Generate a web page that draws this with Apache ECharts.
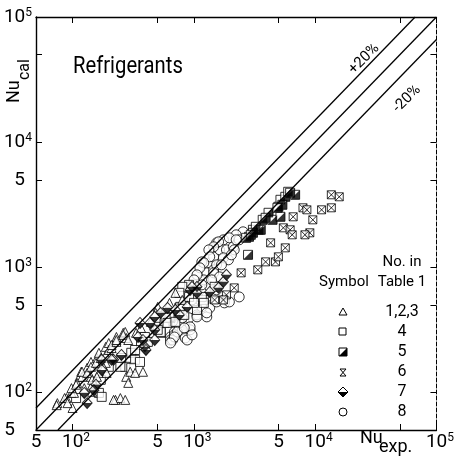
<!DOCTYPE html>
<html>
<head>
<meta charset="utf-8">
<script src="https://cdn.jsdelivr.net/npm/echarts@6/dist/echarts.min.js"></script>
<style>html,body{margin:0;background:#fff}#chart{width:457px;height:469px}</style>
</head>
<body>
<div id="chart"></div>
<script>
// Nu_cal vs Nu_exp for refrigerants, log-log
const F = "Roboto,'DejaVu Sans',sans-serif";

const xTicks = [50, 100, 500, 1000, 5000, 10000, 50000, 100000];
const xLabels = [50, 100, 500, 1000, 5000, 10000, 100000];
const yTicks = [50, 100, 500, 1000, 5000, 10000, 50000, 100000];
const yLabels = [50, 100, 500, 1000, 5000, 10000, 100000];

// reference lines: Nu_cal = Nu_exp and the two bounds
const lineMid = [[50, 50], [100000, 100000]];
const lineUp = [[50, 75], [66700, 100000]];
const lineLow = [[75.8, 50], [100000, 66000]];

// symbol 1,2,3 (open triangle)
const tri = [[75,82],[89,90],[98,99],[114,133],[118,146],[132,157],[142,175],[159,188],[165,207],[188,231],[199,248],[226,262],[230,277],[262,299],[272,304],[277,272],[125,108],[145,115],[142,133],[165,143],[188,172],[277,133],[288,119],[299,146],[328,143],[381,146],[226,87],[248,90],[272,87],[74,79],[86,90],[100,75],[91,82],[103,99],[98,108],[109,119],[120,133],[120,146],[132,143],[142,160],[156,172],[171,188],[188,199],[199,218],[210,226],[210,239],[230,253],[107,115],[145,126],[159,133],[145,101],[181,157],[191,143],[218,87],[504,482],[262,288],[288,262],[230,262],[334,299],[367,327],[442,366],[485,432],[630,519],[705,624],[803,548]];
// symbol 4 (open square)
const sq = [[107,90],[165,99],[199,160],[253,188],[299,182],[305,207],[272,160],[367,239],[395,277],[533,299],[485,334],[574,359],[642,394],[759,473],[914,723],[1208,548],[1062,456],[803,697],[759,624],[914,579],[773,482],[1164,579],[1208,519],[1004,519],[1483,697],[630,401],[533,304],[834,416],[585,394],[607,359],[504,316],[705,366],[418,253],[328,218],[328,182],[305,157],[248,160],[360,175],[171,126],[174,92]];
// symbol 5 (half filled square)
const half = [[5176,3459],[5675,3656],[4977,3041],[5998,4009],[4130,2723],[3697,2393],[4457,2393],[3069,1991],[3434,1991],[2851,1750],[5176,2529],[2798,1256],[6840,3793],[6223,3936],[5370,3155],[4887,2985],[3908,2483],[3245,2104],[3562,1991],[3069,1884],[2700,1718],[2950,1816]];
// symbol 6 (crossed square)
const cross = [[13600,3793],[15800,3656],[7940,2985],[8550,2877],[11300,2877],[13600,2985],[6590,2529],[9570,2393],[5470,2065],[6223,1991],[6470,1816],[9040,1884],[5675,1429],[8240,1816],[4295,1567],[4710,1104],[3908,1104],[3367,953],[2455,902],[2153,684],[1857,601],[1754,548],[4977,1211],[1483,548]];
// symbol 7 (diamond, lower half black)
const diam = [[132,82],[125,99],[156,115],[174,151],[218,182],[347,277],[395,231],[476,316],[533,432],[607,473],[759,416],[931,659],[1062,697],[1352,635],[966,697],[1062,624],[881,482],[705,456],[1754,764],[1600,684],[1857,869],[476,401],[434,359],[360,359],[381,262],[403,218],[476,262],[210,182],[253,199],[150,104],[174,182]];
// symbol 8 (open circle)
const circ = [[642,277],[692,304],[759,334],[834,359],[914,394],[931,316],[1062,416],[1279,401],[1352,473],[1122,548],[1279,902],[1352,1084],[1456,1211],[1630,1377],[1541,1567],[1754,1656],[1208,792],[1164,1104],[1456,953],[1004,579],[2547,1919],[2234,1816],[1963,1718],[1600,1596],[1456,1456],[1330,1377],[1352,1211],[1208,1084],[1122,989],[1062,869],[1004,792],[931,697],[1857,1377],[2113,1456],[1754,1189],[1541,1045],[1928,1146],[1456,902],[1630,837],[1352,697],[1279,579],[1164,482],[1279,432],[1062,401],[931,334],[803,316],[759,359],[692,288],[642,262],[2366,579],[1787,548],[1787,519],[2153,1377],[2366,1656],[1963,528],[1541,528],[667,262],[731,304],[834,327],[849,272],[692,277],[642,248],[1400,792],[1690,1045],[2040,1256],[1164,723],[1541,659],[966,548],[803,394],[667,366],[2234,1656],[881,262],[966,288]];

const legendRows = ['1,2,3', '4', '5', '6', '7', '8'];

function isPow(v) {
  const e = Math.round(Math.log10(v));
  return Math.abs(v - Math.pow(10, e)) < 1e-6 * v ? e : null;
}
const xFmt = v => { const e = isPow(v); return e === null ? '{a|5}' : '{t|10}{s|' + e + '}'; };
const yFmt = v => { const e = isPow(v); return e === null ? (v === 50 ? '{q|5}' : '{p|5}') : '{a|10}{s|' + e + '}'; };
const base = {fontSize: 19, fontFamily: F, color: '#000', lineHeight: 20};
const rich = {
  a: base,
  t: Object.assign({}, base, {padding: [0, 0, 0, 7]}),
  p: Object.assign({}, base, {padding: [0, 7, 0, 0]}),
  q: Object.assign({}, base, {padding: [0, 17, 0, 0]}),
  s: {fontSize: 12, fontFamily: F, color: '#000', lineHeight: 12, verticalAlign: 'top'}
};
const open = {color: '#fff', borderColor: '#000', borderWidth: 1};
const black = {color: '#000'};

function axisBase(pos, labels, fmt) {
  return {
    type: 'log', logBase: 10, min: 50, max: 100000, position: pos,
    axisLine: {show: true, onZero: false, lineStyle: {color: '#000', width: pos === 'right' ? 1 : 1.4, type: pos === 'right' ? 'dashed' : 'solid'}},
    axisTick: {show: true, inside: true, length: 6, customValues: xTicks, lineStyle: {color: '#000'}},
    axisLabel: labels ? {customValues: labels, formatter: fmt, rich: rich, color: '#000'} : {show: false},
    splitLine: {show: false}, minorTick: {show: false}
  };
}

const chart = echarts.init(document.getElementById('chart'));
const xa = axisBase('bottom', xLabels, xFmt); xa.axisLabel.margin = 2;
const ya = axisBase('left', yLabels, yFmt); ya.axisTick.customValues = yTicks; ya.axisLabel.margin = 4;
const sc = (name, data, symbol, size, style, extra) => Object.assign({
  name: name, type: 'scatter', data: data, symbol: symbol, symbolSize: size, itemStyle: style, silent: true
}, extra || {});

chart.setOption({
  animation: false,
  grid: {left: 36, right: 13, top: 17, bottom: 39},
  xAxis: [xa, axisBase('top', null)],
  yAxis: [ya, Object.assign(axisBase('right', null), {axisTick: {show: true, inside: true, length: 6, customValues: yTicks, lineStyle: {color: '#000'}}})],
  series: [
    {type: 'line', data: lineMid, symbol: 'none', lineStyle: {color: '#000', width: 1.3}, silent: true},
    {type: 'line', data: lineUp, symbol: 'none', lineStyle: {color: '#000', width: 1.3}, silent: true},
    {type: 'line', data: lineLow, symbol: 'none', lineStyle: {color: '#000', width: 1.3}, silent: true},
    sc('8', circ, 'circle', 10, open),
    sc('4', sq, 'rect', 9, open),
    sc('1,2,3', tri, 'triangle', 9, open),
    sc('7', diam, 'diamond', [10, 11], open),
    sc('7b', diam, 'triangle', [10, 5.5], black, {symbolRotate: 180, symbolOffset: [0, 2.75]}),
    sc('5', half, 'rect', 9, open),
    sc('5b', half, 'path://M10,0L10,10L0,10Z', 9, black),
    sc('6', cross, 'path://M0,0L10,0L10,10L0,10ZM0,0L10,10M10,0L0,10', 8, open)
  ],
  graphic: [
    {type: 'text', x: 73, y: 67, scaleX: 0.88, style: {text: 'Refrigerants', font: '23px ' + F, fill: '#000', textVerticalAlign: 'middle'}},
    {type: 'group', x: 14, y: 103, rotation: Math.PI / 2, children: [
      {type: 'text', x: 0, y: 0, style: {text: 'Nu', font: '18px ' + F, fill: '#000', textVerticalAlign: 'middle'}},
      {type: 'text', x: 23, y: 11, style: {text: 'cal', font: '16px ' + F, fill: '#000', textVerticalAlign: 'middle'}}
    ]},
    {type: 'text', x: 360, y: 438, style: {text: 'Nu', font: '18px ' + F, fill: '#000', textVerticalAlign: 'middle'}},
    {type: 'text', x: 379, y: 447, style: {text: 'exp.', font: '18px ' + F, fill: '#000', textVerticalAlign: 'middle'}},
    {type: 'text', x: 364, y: 59, rotation: Math.PI / 4, style: {text: '+20%', font: '15px ' + F, fill: '#000', textAlign: 'center', textVerticalAlign: 'middle'}},
    {type: 'text', x: 407, y: 99, rotation: Math.PI / 4, style: {text: '-20%', font: '15px ' + F, fill: '#000', textAlign: 'center', textVerticalAlign: 'middle'}},
    {type: 'text', x: 402, y: 262, style: {text: 'No. in', font: '15px ' + F, fill: '#000', textAlign: 'center', textVerticalAlign: 'middle'}},
    {type: 'text', x: 402, y: 282, style: {text: 'Table 1', font: '15px ' + F, fill: '#000', textAlign: 'center', textVerticalAlign: 'middle'}},
    {type: 'text', x: 344, y: 282, style: {text: 'Symbol', font: '15px ' + F, fill: '#000', textAlign: 'center', textVerticalAlign: 'middle'}},
    ...legendRows.map((t, i) => ({type: 'text', x: 402, y: 312 + i * 20, style: {text: t, font: '16px ' + F, fill: '#000', textAlign: 'center', textVerticalAlign: 'middle'}})),
    {type: 'polygon', shape: {points: [[343, 308], [347, 315], [339, 315]]}, style: {fill: '#fff', stroke: '#000', lineWidth: 1}},
    {type: 'rect', shape: {x: 339, y: 328, width: 7, height: 7}, style: {fill: '#fff', stroke: '#000', lineWidth: 1}},
    {type: 'rect', shape: {x: 339, y: 348, width: 8, height: 8}, style: {fill: '#fff', stroke: '#000', lineWidth: 1}},
    {type: 'polygon', shape: {points: [[347, 348], [347, 356], [339, 356]]}, style: {fill: '#000'}},
    {type: 'polyline', shape: {points: [[340, 369], [346, 369], [340, 376], [346, 376], [340, 369]]}, style: {stroke: '#000', fill: null, lineWidth: 1}},
    {type: 'polygon', shape: {points: [[343, 387], [348, 392], [343, 397], [338, 392]]}, style: {fill: '#fff', stroke: '#000', lineWidth: 1}},
    {type: 'polygon', shape: {points: [[338, 392], [348, 392], [343, 397]]}, style: {fill: '#000'}},
    {type: 'circle', shape: {cx: 343, cy: 412, r: 4}, style: {fill: '#fff', stroke: '#000', lineWidth: 1}}
  ]
});
</script>
</body>
</html>
